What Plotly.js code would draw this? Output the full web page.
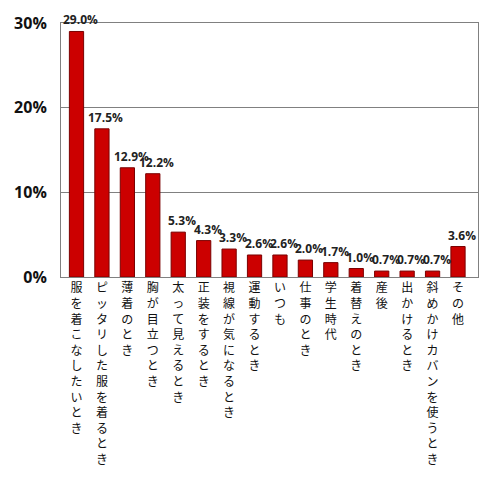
<!DOCTYPE html>
<html>
<head>
<meta charset="utf-8">
<script src="https://cdn.plot.ly/plotly-3.0.1.min.js"></script>
<style>
   html, body { margin: 0; padding: 0; background: #fff; }
   #chart { width: 500px; height: 479px; }
</style>
</head>
<body>
<div id="chart"></div>
<script>

// categories and values
const categories = [
   "服を着こなしたいとき", "ピッタリした服を着るとき", "薄着のとき", "胸が目立つとき",
   "太って見えるとき", "正装をするとき", "視線が気になるとき", "運動するとき",
   "いつも", "仕事のとき", "学生時代", "着替えのとき",
   "産後", "出かけるとき", "斜めかけカバンを使うとき", "その他"
];
const values = [29.0, 17.5, 12.9, 12.2, 5.3, 4.3, 3.3, 2.6, 2.6, 2.0, 1.7, 1.0, 0.7, 0.7, 0.7, 3.6];
const yTicks = [0, 10, 20, 30];
const yTickLabels = ["0%", "10%", "20%", "30%"];

// vertical (tategaki) labels: one character per line
function stackChars(s) {
   return Array.from(s).join("<br>");
}

const trace = {
   type: 'bar',
   x: categories,
   y: values,
   marker: { color: '#cc0000', line: { color: '#7a0000', width: 1 } },
   hoverinfo: 'none'
};

const annotations = values.map((v, i) => ({
   x: categories[i],
   y: v,
   text: v.toFixed(1) + "%",
   showarrow: false,
   xanchor: 'center',
   yanchor: 'bottom',
   xshift: 4,
   yshift: 1,
   font: { family: 'Open Sans, sans-serif', size: 12, color: '#222', weight: 'bold' }
}));

const layout = {
   width: 500,
   height: 479,
   margin: { t: 23, b: 202, l: 61, r: 22 },
   paper_bgcolor: '#fff',
   plot_bgcolor: '#fff',
   showlegend: false,
   bargap: 0.44,
   xaxis: {
      tickmode: 'array',
      tickvals: categories,
      ticktext: categories.map(stackChars),
      tickfont: { family: 'Noto Sans CJK JP', size: 12, color: '#111' },
      tickangle: 0,
      ticks: '',
      showline: true,
      linecolor: '#808080',
      linewidth: 1,
      mirror: true,
      fixedrange: true
   },
   yaxis: {
      range: [0, 30],
      tickmode: 'array',
      tickvals: yTicks,
      ticktext: yTickLabels,
      tickfont: { family: 'Open Sans, sans-serif', size: 16, color: '#111', weight: 'bold' },
      ticks: '',
      ticklabelstandoff: 10,
      showgrid: true,
      gridcolor: '#808080',
      gridwidth: 1,
      showline: true,
      linecolor: '#808080',
      linewidth: 1,
      mirror: true,
      zeroline: false,
      fixedrange: true
   },
   annotations: annotations
};

Plotly.newPlot('chart', [trace], layout, { staticPlot: true });

</script>
</body>
</html>
